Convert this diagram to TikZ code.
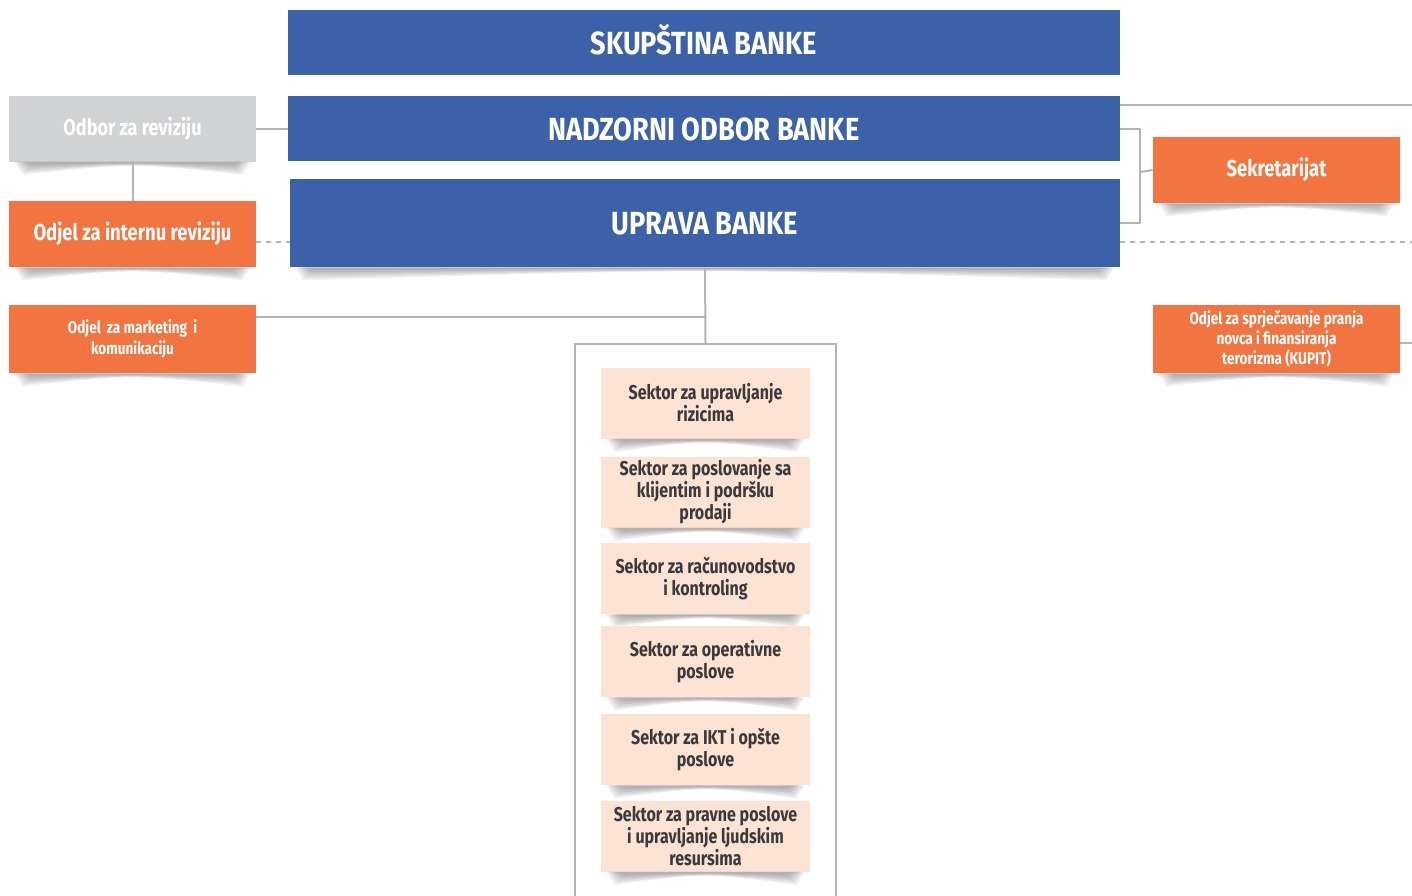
\documentclass[tikz,border=0pt]{standalone}
\usepackage{fontspec}
\setmainfont{Fira Sans}[FakeStretch=0.8]
\newfontfamily\titlefont{Fira Sans}[FakeStretch=0.85]
\usetikzlibrary{positioning}
\definecolor{bankblue}{HTML}{3B62A8}
\definecolor{orgorange}{HTML}{F27541}
\definecolor{boardgray}{HTML}{D1D2D4}
\definecolor{sectorfill}{HTML}{FCE3D3}
\definecolor{linegray}{HTML}{B3B4B6}
\definecolor{textdark}{HTML}{3A3A3C}
\newcommand\liftshadow[1]{%
  \foreach \k in {1,...,6}{%
    \fill[black, opacity=0.06]
      ([xshift={\k pt+2pt}]#1.south west) -- ([xshift={-\k pt-2pt}]#1.south east)
      -- ([xshift={-\k pt-6pt},yshift={\k pt-7.5pt}]#1.south east)
      .. controls ([yshift=-0.5pt]#1.south) .. ([xshift={\k pt+6pt},yshift={\k pt-7.5pt}]#1.south west) -- cycle;}}

\begin{document}
\begin{tikzpicture}[
	x=0.5pt, y=-0.5pt,
	bankbox/.style={fill=bankblue, text=white, inner sep=0pt,
		font=\titlefont\bfseries\fontsize{16}{18}\selectfont,
		text height=11.5pt, text depth=0pt,
		minimum width=416pt, minimum height=32.5pt},
	sidebox/.style={fill=orgorange, text=white, inner sep=0pt, align=center,
		minimum width=123.5pt, minimum height=33pt},
	sectorbox/.style={fill=sectorfill, text=textdark, inner sep=0pt, align=center,
		font=\bfseries\fontsize{10}{11}\selectfont,
		minimum width=104.5pt, minimum height=35.5pt},
	conn/.style={draw=linegray, line width=1pt},
	dashconn/.style={draw=linegray, line width=1pt, dash pattern=on 2.5pt off 2.5pt}]
\useasboundingbox (0,0) rectangle (1412,895);

\node[bankbox] (skup) at (704,42.5) {SKUPŠTINA BANKE};
\node[bankbox] (nadzor) at (704,128.5) {NADZORNI ODBOR BANKE};
\node[bankbox, minimum width=415pt, minimum height=44pt] (uprava) at (705,223) {UPRAVA BANKE};

\node[sidebox, fill=boardgray, font=\bfseries\fontsize{11.3}{14}\selectfont] (odbor) at (132.5,128.5) {Odbor za reviziju};
\node[sidebox, font=\bfseries\fontsize{11.5}{14}\selectfont] (interna) at (132.5,234) {Odjel za internu reviziju};
\node[sidebox, minimum height=34pt, font=\bfseries\fontsize{8.5}{10.5}\selectfont] (marketing) at (132.5,339) {Odjel \,za marketing \,i\\komunikaciju};
\node[sidebox, font=\bfseries\fontsize{11.5}{14}\selectfont] (sekret) at (1276.5,170) {Sekretarijat};
\node[sidebox, minimum height=34pt, font=\bfseries\fontsize{8.5}{8.5}\selectfont] (kupit) at (1276.5,339) {Odjel za sprječavanje pranja\\novca i finansiranja\\terorizma (KUPIT)};

% okvir sektora
\node[draw=linegray, line width=1pt, minimum width=130.5pt, minimum height=280pt, inner sep=0pt] (frame) at (705.5,624) {};
\foreach \name/\ypos/\txt in {
	s1/403/{Sektor za upravljanje\\rizicima},
	s2/492/{Sektor za poslovanje sa\\klijentim i podršku\\prodaji},
	s3/578.5/{Sektor za računovodstvo\\i kontroling},
	s4/661.5/{Sektor za operativne\\poslove},
	s5/749.5/{Sektor za IKT i opšte\\poslove},
	s6/836/{Sektor za pravne poslove\\i upravljanje ljudskim\\resursima}}
{
	\node[sectorbox] (\name) at (705.5,\ypos) {\txt};
	\liftshadow{\name}
}

\foreach \n in {odbor,interna,marketing,sekret,kupit,uprava}
	{\liftshadow{\n}}

\coordinate (rightedge) at (1412,0);
\coordinate (brk) at (1140,172);
\coordinate (nzline) at ([yshift=-4.5pt]nadzor.north east);
\coordinate (kpline) at ([yshift=-2pt]kupit.east);
\coordinate (mkline) at ([yshift=11pt]marketing.east);
\coordinate (dsline) at ([yshift=-4pt]interna.east);

\draw[conn] (odbor.east) -- (odbor.east -| nadzor.west);
\draw[conn] (odbor.south) -- (interna.north);
\draw[dashconn] (dsline) -- (dsline -| uprava.west);
\draw[dashconn] (uprava.east |- dsline) -- (rightedge |- dsline);
\draw[conn] (nzline) -- (rightedge |- nzline);
\draw[conn] (nadzor.east) -| (brk) |- (uprava.east);
\draw[conn] (brk) -- (sekret.west);
\draw[conn] (kpline) -- (rightedge |- kpline);
\draw[conn] (uprava.south) -- (frame.north);
\draw[conn] (mkline) -- (mkline -| uprava.south);
\end{tikzpicture}
\end{document}
